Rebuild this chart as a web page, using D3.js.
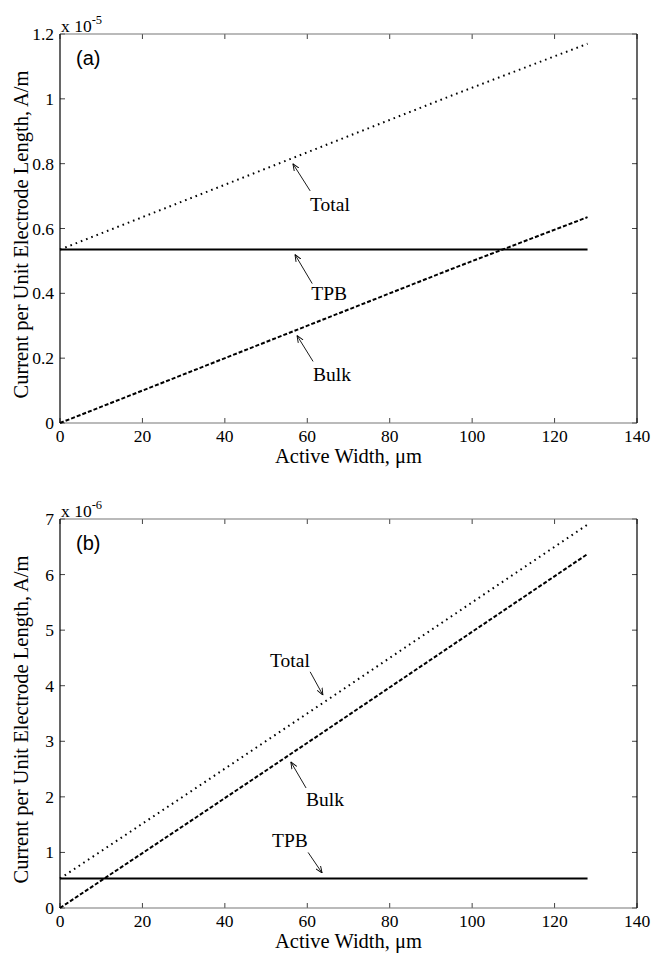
<!DOCTYPE html>
<html>
<head>
<meta charset="utf-8">
<script src="https://cdn.jsdelivr.net/npm/d3@7"></script>
<style>
  html, body { margin: 0; padding: 0; background: #fff; }
  svg { display: block; }
  .tick-label { font-family: "Liberation Serif", "DejaVu Serif", serif; font-size: 17.5px; fill: #000; }
  .axis-title { font-family: "Liberation Serif", "DejaVu Serif", serif; font-size: 20.5px; fill: #000; }
  .note { font-family: "Liberation Serif", "DejaVu Serif", serif; font-size: 19.5px; fill: #000; }
  .panel-tag { font-family: "Liberation Sans", Arial, sans-serif; font-size: 20px; fill: #000; }
</style>
</head>
<body>
<svg id="chart" width="653" height="954"></svg>
<script>
// Active width positions (µm) where each curve is sampled
const widths = [0, 32, 64, 96, 128];

// Panel (a): currents in units of 1e-5 A/m
const totalA = [0.535, 0.695, 0.855, 1.015, 1.17];
const tpbA   = [0.535, 0.535, 0.535, 0.535, 0.535];
const bulkA  = [0, 0.16, 0.32, 0.48, 0.635];

// Panel (b): currents in units of 1e-6 A/m
const totalB = [0.53, 2.11, 3.70, 5.30, 6.90];
const tpbB   = [0.53, 0.53, 0.53, 0.53, 0.53];
const bulkB  = [0, 1.58, 3.17, 4.77, 6.37];

// Tick values
const xTicks  = [0, 20, 40, 60, 80, 100, 120, 140];
const yTicksA = [0, 0.2, 0.4, 0.6, 0.8, 1, 1.2];
const yTicksB = [0, 1, 2, 3, 4, 5, 6, 7];

// Callouts: label, text anchor point, arrow tail, arrow head (data units)
const notesA = [
  { label: "Total", text: [65.5, 0.675], tail: [60.7, 0.716], head: [56.5, 0.80] },
  { label: "TPB",   text: [65.3, 0.40],  tail: [61.2, 0.43],  head: [57.0, 0.52] },
  { label: "Bulk",  text: [66.0, 0.15],  tail: [61.4, 0.19],  head: [57.5, 0.27] }
];
const notesB = [
  { label: "Total", text: [55.8, 4.46], tail: [60.7, 4.25], head: [63.8, 3.83] },
  { label: "Bulk",  text: [64.3, 1.96], tail: [59.7, 2.16], head: [56.0, 2.63] },
  { label: "TPB",   text: [55.8, 1.22], tail: [60.2, 1.00], head: [63.6, 0.63] }
];

const svg = d3.select("#chart");

svg.append("defs").append("marker")
  .attr("id", "arrowhead")
  .attr("viewBox", "0 0 10 10")
  .attr("refX", 10).attr("refY", 5)
  .attr("markerWidth", 7).attr("markerHeight", 7)
  .attr("markerUnits", "userSpaceOnUse")
  .attr("orient", "auto")
  .append("path")
  .attr("d", "M0,1 L10,5 L0,9")
  .attr("fill", "none")
  .attr("stroke", "#000")
  .attr("stroke-width", 1.3);

const left = 60, right = 637;

function drawPanel(cfg) {
  const x = d3.scaleLinear().domain([0, 140]).range([left, right]);
  const y = d3.scaleLinear().domain([0, cfg.yMax]).range([cfg.bottom, cfg.top]);
  const g = svg.append("g");

  // Inward ticks on all four sides
  const tickLen = 5;
  xTicks.forEach(t => {
    g.append("line").attr("x1", x(t)).attr("x2", x(t))
      .attr("y1", cfg.bottom).attr("y2", cfg.bottom - tickLen)
      .attr("stroke", "#444").attr("stroke-width", 1);
    g.append("line").attr("x1", x(t)).attr("x2", x(t))
      .attr("y1", cfg.top).attr("y2", cfg.top + tickLen)
      .attr("stroke", "#444").attr("stroke-width", 1);
    g.append("text").attr("class", "tick-label")
      .attr("x", x(t)).attr("y", cfg.bottom + 19)
      .attr("text-anchor", "middle").text(t);
  });
  cfg.yTicks.forEach(t => {
    g.append("line").attr("x1", left).attr("x2", left + tickLen)
      .attr("y1", y(t)).attr("y2", y(t))
      .attr("stroke", "#444").attr("stroke-width", 1);
    g.append("line").attr("x1", right).attr("x2", right - tickLen)
      .attr("y1", y(t)).attr("y2", y(t))
      .attr("stroke", "#444").attr("stroke-width", 1);
    g.append("text").attr("class", "tick-label")
      .attr("x", left - 6).attr("y", y(t) + 6)
      .attr("text-anchor", "end").text(t);
  });

  // Axes box
  g.append("line").attr("x1", left).attr("x2", right).attr("y1", cfg.bottom).attr("y2", cfg.bottom)
    .attr("stroke", "#777").attr("stroke-width", 1.2);
  g.append("line").attr("x1", left).attr("x2", right).attr("y1", cfg.top).attr("y2", cfg.top)
    .attr("stroke", "#777").attr("stroke-width", 1.2);
  g.append("line").attr("x1", left).attr("x2", left).attr("y1", cfg.top).attr("y2", cfg.bottom)
    .attr("stroke", "#000").attr("stroke-width", 1.2);
  g.append("line").attr("x1", right).attr("x2", right).attr("y1", cfg.top).attr("y2", cfg.bottom)
    .attr("stroke", "#000").attr("stroke-width", 1.2);

  // Exponent label
  const ex = g.append("text").attr("class", "tick-label")
    .attr("x", left + 1).attr("y", cfg.top - 2);
  ex.append("tspan").text("x 10");
  ex.append("tspan").attr("dy", -8).attr("font-size", 12.5).text(cfg.exp);

  // Panel tag
  g.append("text").attr("class", "panel-tag")
    .attr("x", left + 16).attr("y", cfg.top + 31).text(cfg.tag);

  // Curves
  const line = d3.line().x((d, i) => x(widths[i])).y(d => y(d));
  g.append("path").datum(cfg.tpb).attr("d", line)
    .attr("fill", "none").attr("stroke", "#000").attr("stroke-width", 2);
  g.append("path").datum(cfg.bulk).attr("d", line)
    .attr("fill", "none").attr("stroke", "#000").attr("stroke-width", 2)
    .attr("stroke-dasharray", "4,2");
  g.append("path").datum(cfg.total).attr("d", line)
    .attr("fill", "none").attr("stroke", "#000").attr("stroke-width", 2)
    .attr("stroke-dasharray", "1.6,4");

  // Callouts
  cfg.notes.forEach(n => {
    g.append("line")
      .attr("x1", x(n.tail[0])).attr("y1", y(n.tail[1]))
      .attr("x2", x(n.head[0])).attr("y2", y(n.head[1]))
      .attr("stroke", "#000").attr("stroke-width", 0.9)
      .attr("marker-end", "url(#arrowhead)");
    g.append("text").attr("class", "note")
      .attr("x", x(n.text[0])).attr("y", y(n.text[1]) + 7)
      .attr("text-anchor", "middle").text(n.label);
  });

  // Axis titles
  g.append("text").attr("class", "axis-title")
    .attr("x", (left + right) / 2).attr("y", cfg.bottom + 40)
    .attr("text-anchor", "middle").text("Active Width, \u03BCm");
  g.append("text").attr("class", "axis-title")
    .attr("transform", `translate(28,${(cfg.top + cfg.bottom) / 2 + 6}) rotate(-90)`)
    .attr("text-anchor", "middle").text("Current per Unit Electrode Length, A/m");
}

drawPanel({ top: 34, bottom: 423, yMax: 1.2, yTicks: yTicksA, exp: "-5", tag: "(a)",
            total: totalA, tpb: tpbA, bulk: bulkA, notes: notesA });
drawPanel({ top: 519, bottom: 908, yMax: 7, yTicks: yTicksB, exp: "-6", tag: "(b)",
            total: totalB, tpb: tpbB, bulk: bulkB, notes: notesB });
</script>
</body>
</html>
